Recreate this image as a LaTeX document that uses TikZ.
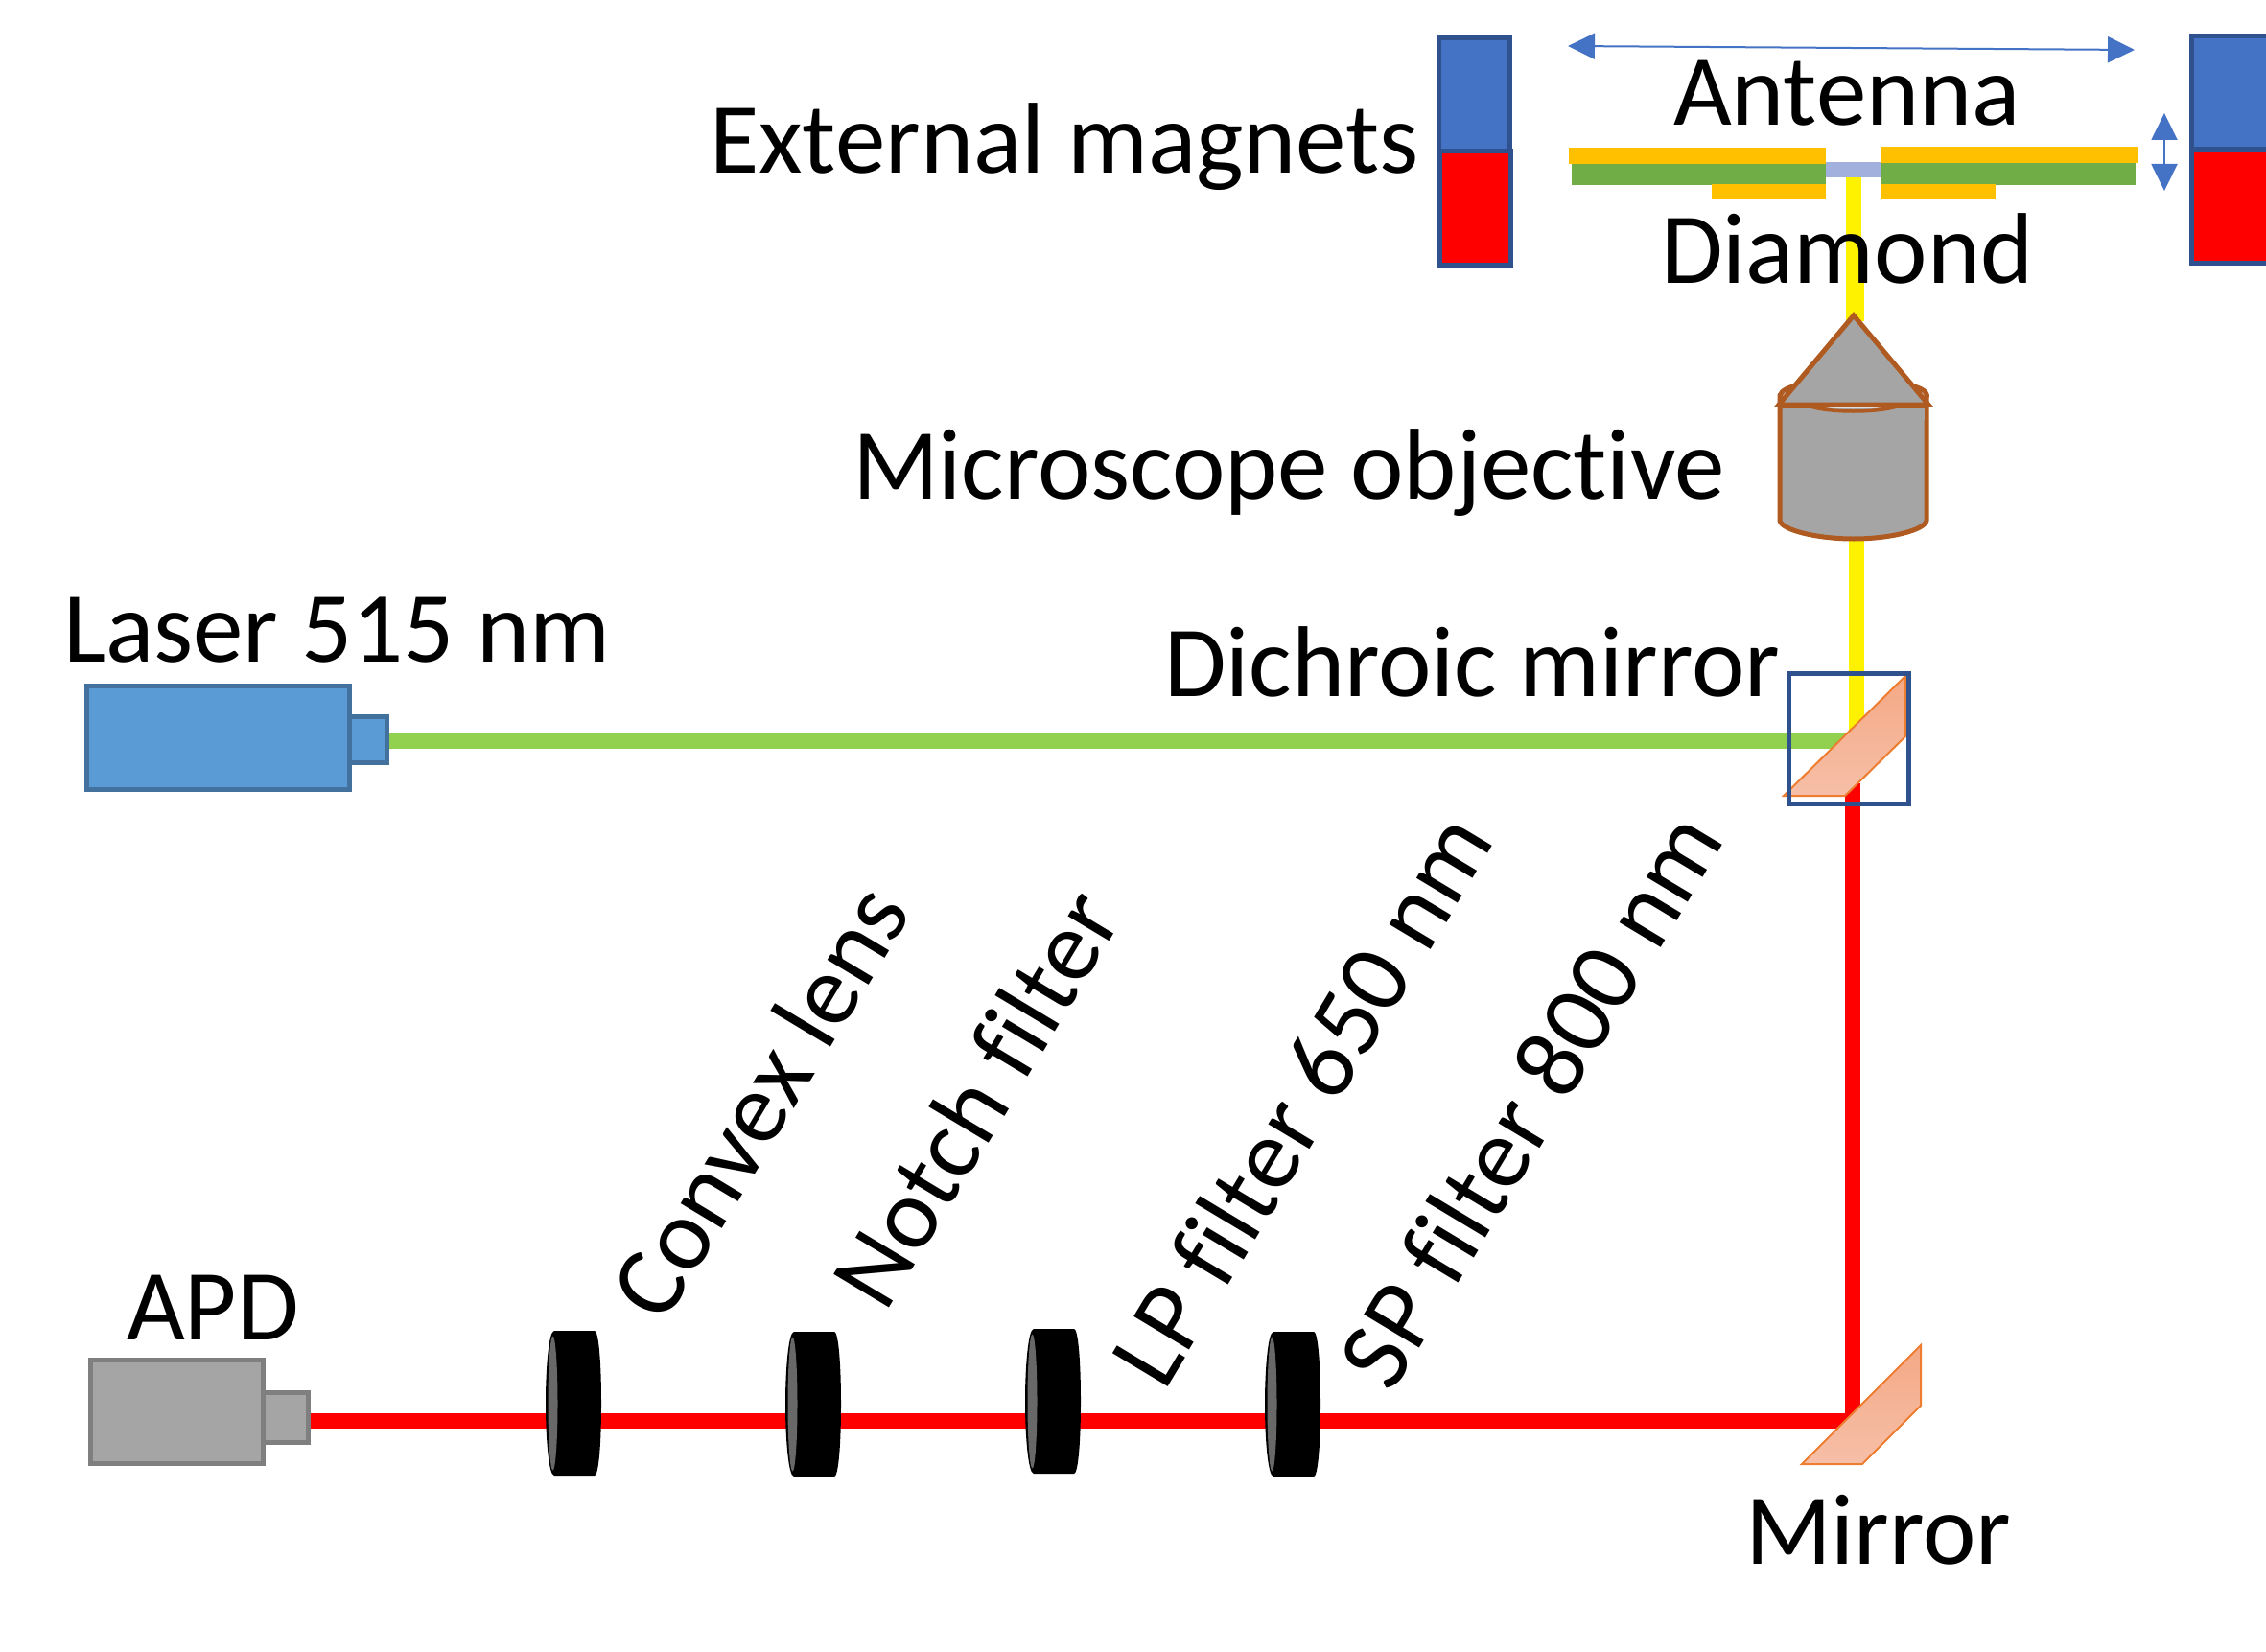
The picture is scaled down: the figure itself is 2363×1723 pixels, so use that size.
\documentclass[tikz,border=0pt]{standalone}
\usepackage{fontspec}
\setmainfont[Ligatures=NoCommon]{Carlito}
\usetikzlibrary{arrows.meta}
\definecolor{magblue}{HTML}{4472C4}
\definecolor{magedge}{HTML}{2F528F}
\definecolor{gold}{HTML}{FFC000}
\definecolor{pcb}{HTML}{70AD47}
\definecolor{diam}{HTML}{A2B0DE}
\definecolor{objgray}{HTML}{A5A5A5}
\definecolor{objlight}{HTML}{E0E0E0}
\definecolor{objedge}{HTML}{AE5A21}
\definecolor{mirredge}{HTML}{ED7D31}
\definecolor{mirrtop}{HTML}{F4A985}
\definecolor{mirrbot}{HTML}{F6BFA8}
\definecolor{laserblue}{HTML}{5B9BD5}
\definecolor{laseredge}{HTML}{41719C}
\definecolor{apdedge}{HTML}{7F7F7F}
\definecolor{beamgreen}{HTML}{92D050}
\definecolor{lensgray}{HTML}{686868}
\tikzset{
  x=1pt,y=-1pt,
  lbl/.style={inner sep=0pt,outer sep=0pt,font=\fontsize{105}{120}\selectfont,text=black},
  lblw/.style={lbl,anchor=base west},
  magnet/.style={draw=magedge,line width=5pt},
  beam/.style={line width=16pt,line cap=butt},
  mirrorshape/.style={draw=mirredge,line width=2pt,top color=mirrtop,bottom color=mirrbot,line join=miter},
  laserpart/.style={draw=laseredge,fill=laserblue,line width=5pt},
  apdpart/.style={draw=apdedge,fill=objgray,line width=5pt},
  objpart/.style={draw=objedge,line width=5pt,line join=round},
  dim/.style={draw=magblue,line width=2pt,{Triangle[length=28pt,width=27pt,fill=magblue]}-{Triangle[length=28pt,width=27pt,fill=magblue]}},
  filterlens/.pic={
    \fill[black] (9,0) -- (51,0) .. controls (55,0) and (58,30) .. (58,75.5) .. controls (58,121) and (55,151) .. (51,151) -- (9,151) .. controls (3,151) and (0,110) .. (0,75.5) .. controls (0,41) and (3,0) .. (9,0) -- cycle;
    \fill[lensgray] (7.5,75.5) ellipse [x radius=5,y radius=70];
  },
}
\begin{document}
\begin{tikzpicture}
\useasboundingbox (0,0) rectangle (2363,1723);
\fill[white] (0,0) rectangle (2363,1723);

% beams
\coordinate (yuA) at (1933,185);
\coordinate (yuB) at (1933,250);
\coordinate (yuC) at (1934.5,250);
\coordinate (yuD) at (1934.5,335);
\coordinate (ylA) at (1936,555);
\coordinate (ylB) at (1936,775);
\coordinate (laserEnd) at (405,773);
\coordinate (dichroicIn) at (1925,773);
\coordinate (redTop) at (1932,817);
\coordinate (redCorner) at (1932,1482);
\coordinate (apdEnd) at (324,1482);
\draw[beam,color=yellow] (yuA) -- (yuB);
\draw[line width=19pt,color=yellow] (yuC) -- (yuD);
\draw[beam,color=yellow] (ylA) -- (ylB);
\draw[beam,color=beamgreen] (laserEnd) -- (dichroicIn);
\draw[beam,color=red,line join=miter] (redTop) -- (redCorner) -- (apdEnd);

% magnets
\draw[magnet,fill=red] (1501.5,157.5) rectangle (1575.5,276.5);
\draw[magnet,fill=magblue] (1500.5,39.5) rectangle (1574.5,157.5);
\draw[magnet,fill=red] (2285.5,156.5) rectangle (2380,274.5);
\draw[magnet,fill=magblue] (2285.5,37.5) rectangle (2380,155.5);

% antenna
\fill[gold] (1636,154) rectangle (1904,171);
\fill[gold] (1961,153) rectangle (2229,170);
\fill[pcb] (1639,171) rectangle (1904,193);
\fill[pcb] (1961,170) rectangle (2227,193);
\fill[diam] (1904,169) rectangle (1961,185);
\fill[gold] (1785,192) rectangle (1904,208);
\fill[gold] (1961,192) rectangle (2081,208);

% double arrows
\coordinate (wideL) at (1635,48);
\coordinate (wideR) at (2226,52);
\coordinate (tallT) at (2257,118);
\coordinate (tallB) at (2257,199);
\draw[dim] (wideL) -- (wideR);
\draw[dim] (tallT) -- (tallB);

% objective
\draw[objpart,fill=objlight] (1933,412.5) ellipse [x radius=76.5,y radius=17];
\draw[objpart,fill=objgray] (1856,412) -- (1856,543) .. controls (1858,553) and (1895,562) .. (1933,562) .. controls (1971,562) and (2007,553) .. (2009,543) -- (2009,412) -- (2009,424) -- (1981,424) .. controls (1960,431) and (1905,431) .. (1885,424) -- (1856,424) -- cycle;
\fill[objgray] (1858.5,426) rectangle (2006.5,438);
\fill[objlight] (1890,423) .. controls (1908,427) and (1958,427) .. (1976,423) -- cycle;
\draw[objedge,line width=3.5pt] (1885,423) .. controls (1905,431) and (1960,431) .. (1981,423);
\draw[objpart,fill=objgray,line join=miter] (1933,329) -- (2011,422) -- (1855,422) -- cycle;

% dichroic
\draw[mirrorshape] (1860,830) -- (1987,705) -- (1987,768) -- (1924,830) -- cycle;
\draw[draw=magedge,line width=5pt] (1865,702.5) rectangle (1990,838);

% mirror
\draw[mirrorshape] (1879,1527) -- (2003,1403) -- (2003,1466) -- (1942,1527) -- cycle;

% laser
\draw[laserpart] (90,715.5) rectangle (364,823);
\draw[laserpart] (364,747.5) rectangle (403,795.5);

% APD
\draw[apdpart] (94,1418.5) rectangle (274,1526.5);
\draw[apdpart] (274,1452.5) rectangle (321,1504.5);

% filters
\pic (f1) at (569,1388) {filterlens};
\pic (f2) at (819,1389) {filterlens};
\pic (f3) at (1069,1386) {filterlens};
\pic (f4) at (1319,1389) {filterlens};

% labels
\node[lblw] (tExt) at (740,181) {External magnets};
\node[lblw] (tAnt) at (1745,131) {Antenna};
\node[lblw] (tDia) at (1732,295) {Diamond};
\node[lblw] (tMic) at (889,520) {Microscope objective};
\node[lblw] (tLas) at (66,690) {Laser 515 nm};
\node[lblw] (tDic) at (1214,726) {Dichroic mirror};
\node[lblw] (tApd) at (132,1397) {APD};
\node[lblw] (tMir) at (1820,1631) {Mirror};
\node[lbl,rotate=59] (tCon) at (791,1148) {Convex lens};
\node[lbl,rotate=59] (tNot) at (1017,1145) {Notch filter};
\node[lbl,rotate=59] (tLp) at (1356,1146) {LP filter 650 nm};
\node[lbl,rotate=59] (tSp) at (1595,1146) {SP filter 800 nm};
\end{tikzpicture}
\end{document}
